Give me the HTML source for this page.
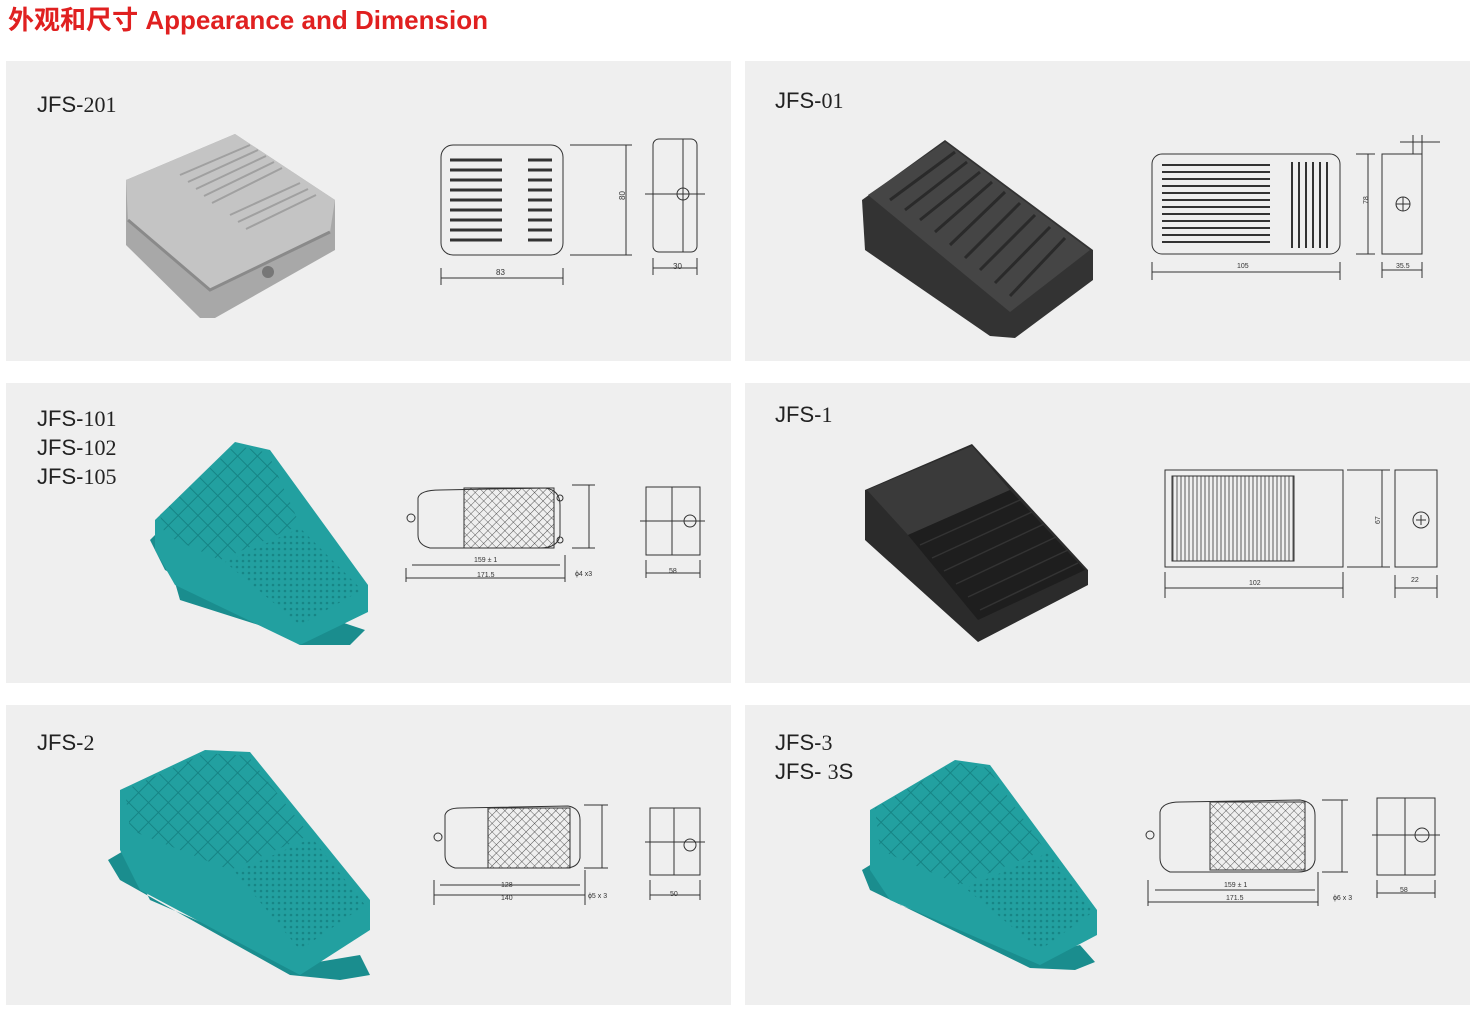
<!DOCTYPE html>
<html><head><meta charset="utf-8"><style>
body{margin:0;width:1480px;height:1016px;background:#fff;overflow:hidden;font-family:"Liberation Sans","Noto Sans CJK SC",sans-serif}
</style></head><body>
<svg width="1480" height="1016" xmlns="http://www.w3.org/2000/svg" font-family="Liberation Sans, Noto Sans CJK SC, sans-serif">
<defs>
<pattern id="diam" width="14" height="14" patternUnits="userSpaceOnUse" patternTransform="rotate(45)">
<rect width="14" height="14" fill="#22a0a0"/><path d="M0 0H14M0 0V14" stroke="#168485" stroke-width="2"/></pattern>
<pattern id="dots" width="6" height="6" patternUnits="userSpaceOnUse"><rect width="6" height="6" fill="#22a0a0"/><circle cx="3" cy="3" r="1.3" fill="#178586"/></pattern>
<pattern id="grid" width="6" height="6" patternUnits="userSpaceOnUse" patternTransform="rotate(45)"><path d="M0 0H6M0 0V6" stroke="#333" stroke-width="0.8" fill="none"/></pattern>
<pattern id="vl" width="4" height="4" patternUnits="userSpaceOnUse"><path d="M1 0V4" stroke="#333" stroke-width="0.8"/></pattern>
</defs>
<text x="8" y="29" fill="#e02020" font-size="26" font-weight="bold" textLength="480" lengthAdjust="spacingAndGlyphs">外观和尺寸 Appearance and Dimension</text>
<g fill="#efefef">
<rect x="6" y="61" width="725" height="300"/><rect x="745" y="61" width="725" height="300"/>
<rect x="6" y="383" width="725" height="300"/><rect x="745" y="383" width="725" height="300"/>
<rect x="6" y="705" width="725" height="300"/><rect x="745" y="705" width="725" height="300"/>
</g>
<g font-size="22" fill="#222">
<text x="37" y="112">JFS-<tspan font-family="Liberation Serif, serif">201</tspan></text>
<text x="775" y="108">JFS-<tspan font-family="Liberation Serif, serif">01</tspan></text>
<text x="37" y="426">JFS-<tspan font-family="Liberation Serif, serif">101</tspan></text><text x="37" y="455">JFS-<tspan font-family="Liberation Serif, serif">102</tspan></text><text x="37" y="484">JFS-<tspan font-family="Liberation Serif, serif">105</tspan></text>
<text x="775" y="422">JFS-<tspan font-family="Liberation Serif, serif">1</tspan></text>
<text x="37" y="750">JFS-<tspan font-family="Liberation Serif, serif">2</tspan></text>
<text x="775" y="750">JFS-<tspan font-family="Liberation Serif, serif">3</tspan></text><text x="775" y="779">JFS- <tspan font-family="Liberation Serif, serif">3</tspan>S</text>
</g>
<!-- JFS-201 pedal -->
<path d="M126 180 L235 134 L335 200 L335 250 L215 318 L200 318 L126 245 Z" fill="#a8a8a8"/>
<path d="M126 180 L235 134 L335 200 L330 232 L210 290 L128 220 Z" fill="#c4c4c4"/>
<path d="M128 220 L210 290 L330 232" fill="none" stroke="#8a8a8a" stroke-width="3"/>
<g stroke="#a0a0a0" stroke-width="2">
<path d="M180 175 L250 145 M188 182 L258 150 M196 189 L266 156 M204 196 L274 162 M212 203 L282 168"/>
<path d="M230 215 L300 183 M238 222 L308 189 M246 229 L316 195"/>
</g>
<circle cx="268" cy="272" r="6" fill="#777"/>
<!-- drawing 1 -->
<g fill="none" stroke="#333" stroke-width="1">
<rect x="441" y="145" width="122" height="110" rx="12"/>
<g stroke-width="3"><path d="M450 160H502M450 170H502M450 180H502M450 190H502M450 200H502M450 210H502M450 220H502M450 230H502M450 240H502M528 160H552M528 170H552M528 180H552M528 190H552M528 200H552M528 210H552M528 220H552M528 230H552M528 240H552"/></g>
<path d="M441 268V285M563 268V285M441 278H563M570 145H632M570 255H632M626 145V255M653 258V275M697 258V275M653 268H697"/>
<rect x="653" y="139" width="44" height="113" rx="6"/><path d="M683 139V252M645 194H705"/><circle cx="683" cy="194" r="6"/>
</g>
<g font-size="8" fill="#333"><text x="496" y="275">83</text><text x="673" y="269">30</text><text x="620" y="205" transform="rotate(-90 620 200)">80</text></g>
<!-- JFS-01 pedal -->
<path d="M862 200 L945 140 L1093 250 L1093 280 L1015 338 L990 336 L865 250 Z" fill="#333"/>
<path d="M868 195 L945 142 L1090 250 L1010 312 Z" fill="#454545"/>
<g stroke="#2a2a2a" stroke-width="3"><path d="M890 200L955 152M905 210L967 162M920 220L980 172M935 232L992 182M950 245L1005 192M965 258L1020 203M980 270L1035 215M995 283L1050 227M1010 296L1065 238"/></g>
<!-- drawing 2 -->
<g fill="none" stroke="#333" stroke-width="1">
<rect x="1152" y="154" width="188" height="100" rx="10"/>
<g stroke-width="2"><path d="M1162 165H1270M1162 172H1270M1162 179H1270M1162 186H1270M1162 193H1270M1162 200H1270M1162 207H1270M1162 214H1270M1162 221H1270M1162 228H1270M1162 235H1270M1162 242H1270M1292 162V248M1299 162V248M1306 162V248M1313 162V248M1320 162V248M1327 162V248"/></g>
<path d="M1152 262V280M1340 262V280M1152 272H1340M1356 154H1375M1356 254H1375M1368 154V254M1382 262V278M1422 262V278M1382 270H1422"/>
<rect x="1382" y="154" width="40" height="100"/><circle cx="1403" cy="204" r="7"/><path d="M1396 204H1410M1403 197V211M1413 135V154M1422 135V154M1400 142H1440"/>
</g>
<g font-size="7" fill="#333"><text x="1237" y="268">105</text><text x="1396" y="268">35.5</text><text x="1364" y="208" transform="rotate(-90 1364 204)">78</text></g>
<!-- JFS-101 teal pedal -->
<path d="M150 540 L160 530 L180 600 L290 635 L335 620 L365 630 L350 645 L300 645 L165 570 Z" fill="#1a8d8e"/>
<path d="M155 520 L235 442 L270 450 L368 585 L368 612 L300 645 L175 585 L155 550 Z" fill="#22a0a0"/>
<path d="M160 515 L235 445 L268 453 L300 525 L220 560 L165 535 Z" fill="url(#diam)"/>
<path d="M225 562 L300 528 L362 590 L300 625 Z" fill="url(#dots)"/>
<!-- drawing 3 -->
<g fill="none" stroke="#333" stroke-width="1">
<path d="M418 498 Q420 490 440 490 L545 488 Q560 490 560 505 L560 535 Q558 548 540 548 L430 548 Q418 545 418 535 Z"/>
<rect x="464" y="488" width="90" height="60" fill="url(#grid)"/>
<path d="M406 568V582M565 555V582M406 578H565M412 565H560M589 485V548M572 485H595M572 548H595M646 560V578M700 560V578M646 573H700"/>
<rect x="646" y="487" width="54" height="68"/><path d="M672 487V555M640 521H705"/><circle cx="690" cy="521" r="6"/>
<circle cx="411" cy="518" r="4"/><circle cx="560" cy="498" r="3"/><circle cx="560" cy="540" r="3"/>
</g>
<g font-size="7" fill="#333"><text x="474" y="562">159 ± 1</text><text x="477" y="577">171.5</text><text x="575" y="576">ϕ4 x3</text><text x="669" y="573">58</text></g>
<!-- JFS-1 black box -->
<path d="M865 490 L972 444 L1088 570 L1088 585 L978 642 L865 540 Z" fill="#2b2b2b"/>
<path d="M867 490 L972 446 L1010 490 L908 535 Z" fill="#3a3a3a"/>
<path d="M908 535 L1010 490 L1085 570 L978 620 Z" fill="#1e1e1e"/>
<g stroke="#333" stroke-width="1.5"><path d="M920 545L1020 500M932 558L1032 512M944 571L1044 524M956 584L1056 537M968 597L1068 550M980 610L1078 563"/></g>
<!-- drawing 4 -->
<g fill="none" stroke="#333" stroke-width="1">
<rect x="1165" y="470" width="178" height="97"/>
<rect x="1172" y="476" width="122" height="85" fill="url(#vl)"/>
<path d="M1165 572V598M1343 572V598M1165 588H1343M1347 470H1390M1347 567H1390M1382 470V567M1395 575V598M1437 575V598M1395 588H1437"/>
<rect x="1395" y="470" width="42" height="97"/><circle cx="1421" cy="520" r="8"/><path d="M1416 520H1426M1421 515V525"/>
</g>
<g font-size="7" fill="#333"><text x="1249" y="585">102</text><text x="1411" y="582">22</text><text x="1376" y="528" transform="rotate(-90 1376 524)">67</text></g>
<!-- JFS-2 teal -->
<path d="M108 860 L125 850 L150 900 L300 965 L360 955 L370 975 L340 980 L290 975 L120 880 Z" fill="#1a8d8e"/>
<path d="M120 790 L205 750 L250 752 L370 900 L370 930 L300 975 L140 890 L120 850 Z" fill="#22a0a0"/>
<path d="M125 790 L205 753 L248 756 L310 835 L230 870 L130 830 Z" fill="url(#diam)"/>
<path d="M235 872 L312 838 L365 905 L300 950 Z" fill="url(#dots)"/>
<!-- drawing 5 -->
<g fill="none" stroke="#333" stroke-width="1">
<path d="M445 815 Q447 808 460 808 L568 806 Q580 808 580 820 L580 858 Q578 868 565 868 L455 868 Q445 865 445 855 Z"/>
<rect x="488" y="808" width="82" height="60" fill="url(#grid)"/>
<path d="M434 880V905M585 870V905M434 895H585M440 885H580M602 805V868M584 805H608M584 868H608M650 880V900M700 880V900M650 895H700"/>
<rect x="650" y="808" width="50" height="67"/><path d="M674 808V875M645 842H705"/><circle cx="690" cy="845" r="6"/>
<circle cx="438" cy="837" r="4"/>
</g>
<g font-size="7" fill="#333"><text x="501" y="887">128</text><text x="501" y="900">140</text><text x="588" y="898">ϕ5 x 3</text><text x="670" y="896">50</text></g>
<!-- JFS-3 teal -->
<path d="M862 870 L875 862 L900 905 L1040 955 L1080 945 L1095 962 L1075 970 L1030 968 L870 890 Z" fill="#1a8d8e"/>
<path d="M870 810 L955 760 L990 765 L1097 910 L1097 935 L1040 965 L890 900 L870 870 Z" fill="#22a0a0"/>
<path d="M875 808 L955 762 L988 768 L1045 850 L960 885 L880 850 Z" fill="url(#diam)"/>
<path d="M965 888 L1048 853 L1093 912 L1040 950 Z" fill="url(#dots)"/>
<!-- drawing 6 -->
<g fill="none" stroke="#333" stroke-width="1">
<path d="M1160 812 Q1162 802 1180 802 L1300 800 Q1315 802 1315 815 L1315 860 Q1313 872 1298 872 L1170 872 Q1160 868 1160 858 Z"/>
<rect x="1210" y="802" width="95" height="68" fill="url(#grid)"/>
<path d="M1148 880V906M1318 872V906M1148 902H1318M1155 890H1315M1342 800V872M1322 800H1348M1322 872H1348M1377 880V898M1435 880V898M1377 893H1435"/>
<rect x="1377" y="798" width="58" height="77"/><path d="M1405 798V875M1372 835H1440"/><circle cx="1422" cy="835" r="7"/>
<circle cx="1150" cy="835" r="4"/>
</g>
<g font-size="7" fill="#333"><text x="1224" y="887">159 ± 1</text><text x="1226" y="900">171.5</text><text x="1333" y="900">ϕ6 x 3</text><text x="1400" y="892">58</text></g>
</svg>
</body></html>
